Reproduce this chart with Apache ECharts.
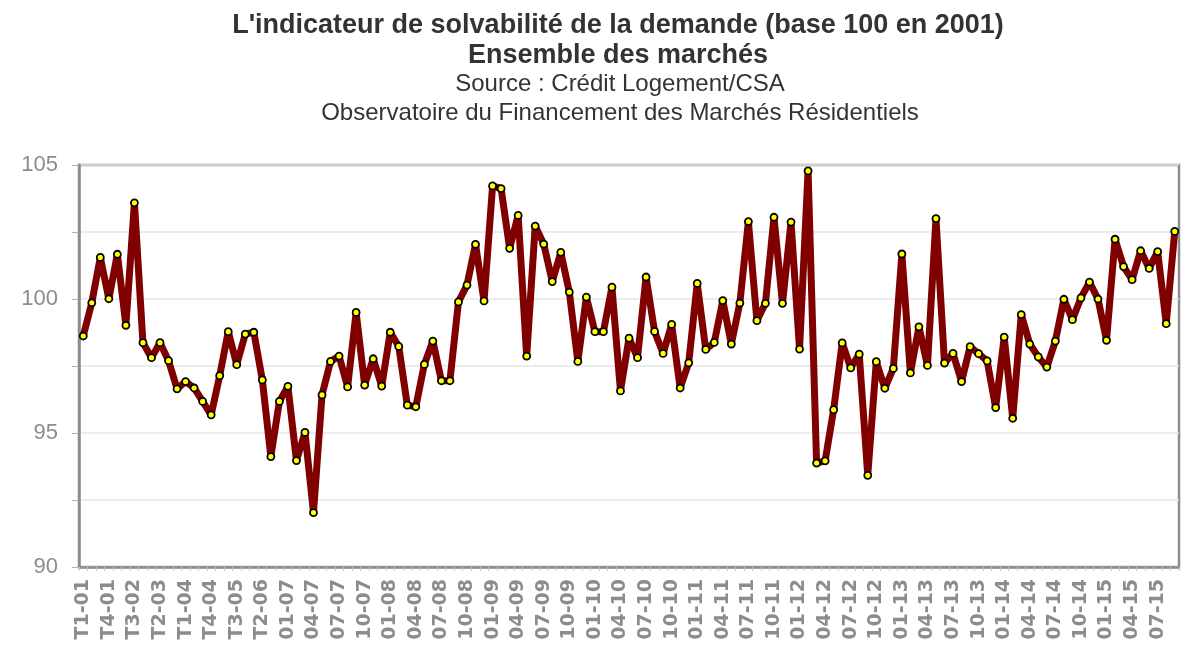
<!DOCTYPE html>
<html>
<head>
<meta charset="utf-8">
<script src="https://cdn.jsdelivr.net/npm/echarts@6/dist/echarts.min.js"></script>
<style>
html,body{margin:0;padding:0;background:#fff;}
#chart{width:1194px;height:658px;}
</style>
</head>
<body>
<div id="chart"></div>
<script>
// Categories: quarterly 2001-2006, then monthly 01-07 .. 09-15
const quarterLabels = [
  "T1-01","T2-01","T3-01","T4-01","T1-02","T2-02","T3-02","T4-02",
  "T1-03","T2-03","T3-03","T4-03","T1-04","T2-04","T3-04","T4-04",
  "T1-05","T2-05","T3-05","T4-05","T1-06","T2-06","T3-06","T4-06"
];
const monthLabels = [
  "01-07","02-07","03-07","04-07","05-07","06-07","07-07","08-07","09-07","10-07","11-07","12-07",
  "01-08","02-08","03-08","04-08","05-08","06-08","07-08","08-08","09-08","10-08","11-08","12-08",
  "01-09","02-09","03-09","04-09","05-09","06-09","07-09","08-09","09-09","10-09","11-09","12-09",
  "01-10","02-10","03-10","04-10","05-10","06-10","07-10","08-10","09-10","10-10","11-10","12-10",
  "01-11","02-11","03-11","04-11","05-11","06-11","07-11","08-11","09-11","10-11","11-11","12-11",
  "01-12","02-12","03-12","04-12","05-12","06-12","07-12","08-12","09-12","10-12","11-12","12-12",
  "01-13","02-13","03-13","04-13","05-13","06-13","07-13","08-13","09-13","10-13","11-13","12-13",
  "01-14","02-14","03-14","04-14","05-14","06-14","07-14","08-14","09-14","10-14","11-14","12-14",
  "01-15","02-15","03-15","04-15","05-15","06-15","07-15","08-15","09-15"
];

// Values
const quarterly2001_2006 = [98.62,99.86,101.55,100.01,101.67,99.02,103.59,98.37,97.81,98.37,97.70,96.65,
  96.92,96.68,96.18,95.68,97.14,98.78,97.55,98.69,98.76,96.98,94.12,96.18];
const m2007 = [96.74,93.97,95.02,92.03,96.42,97.67,97.87,96.72,99.50,96.79,97.77,96.75];
const m2008 = [98.76,98.23,96.04,95.98,97.56,98.43,96.95,96.95,99.89,100.52,102.04,99.93];
const m2009 = [104.22,104.12,101.89,103.12,97.87,102.72,102.05,100.65,101.74,100.26,97.67,100.07];
const m2010 = [98.78,98.78,100.44,96.57,98.54,97.81,100.82,98.79,97.97,99.05,96.68,97.62];
const m2011 = [100.58,98.12,98.38,99.94,98.32,99.85,102.89,99.19,99.84,103.05,99.84,102.87];
const m2012 = [98.13,104.78,93.88,93.96,95.87,98.36,97.43,97.94,93.42,97.66,96.67,97.41];
const m2013 = [101.68,97.24,98.96,97.52,103.00,97.61,97.97,96.92,98.22,97.96,97.69,95.95];
const m2014 = [98.58,95.55,99.42,98.32,97.84,97.46,98.43,99.99,99.23,100.04,100.63,100.00];
const m2015 = [98.46,102.23,101.21,100.72,101.80,101.14,101.77,99.08,102.52];

const categories = quarterLabels.concat(monthLabels);
const values = [].concat(quarterly2001_2006, m2007, m2008, m2009, m2010, m2011, m2012, m2013, m2014, m2015);

const chart = echarts.init(document.getElementById('chart'), null, {renderer:'canvas'});
chart.setOption({
  animation: false,
  backgroundColor: '#ffffff',
  title: [{
    text: "L'indicateur de solvabilité de la demande (base 100 en 2001)\nEnsemble des marchés",
    left: 613,
    textAlign: 'center',
    top: 6,
    textStyle: {fontFamily: 'Liberation Sans, Arial, sans-serif', fontSize: 27, fontWeight: 'bold', color: '#333333', lineHeight: 30}
  }, {
    text: "Source : Crédit Logement/CSA\nObservatoire du Financement des Marchés Résidentiels",
    left: 615,
    textAlign: 'center',
    top: 65,
    textStyle: {fontFamily: 'Liberation Sans, Arial, sans-serif', fontSize: 24, fontWeight: 'normal', color: '#333333', lineHeight: 29}
  }],
  grid: {left: 79, right: 15, top: 165, bottom: 91, show: true, borderColor: '#8c8c8c', borderWidth: 2.5, containLabel: false},
  xAxis: {
    type: 'category',
    data: categories,
    boundaryGap: true,
    axisLine: {show: true, lineStyle: {color: '#8c8c8c', width: 2.5}},
    axisTick: {show: true, interval: 0, length: 4, lineStyle: {color: '#c8c8c8'}},
    axisLabel: {interval: 2, rotate: 90, fontFamily: 'DejaVu Sans, sans-serif', fontSize: 19, fontWeight: 'bold', color: '#8c8c8c', margin: 12},
    splitLine: {show: false}
  },
  yAxis: {
    type: 'value',
    min: 90, max: 105, interval: 2.5,
    axisLine: {show: true, lineStyle: {color: '#8c8c8c', width: 2.5}},
    axisTick: {show: true, length: 7, lineStyle: {color: '#b0b0b0'}},
    axisLabel: {fontFamily: 'Liberation Sans, Arial, sans-serif', fontSize: 22, color: '#8c8c8c', margin: 21,
      formatter: function(v){ return (v % 5 === 0) ? String(v) : ''; }},
    splitLine: {show: true, lineStyle: {color: '#e6e6e6', width: 1.5}}
  },
  series: [{
    type: 'line',
    data: values,
    lineStyle: {color: '#800000', width: 7},
    itemStyle: {color: '#ffff00', borderColor: '#000000', borderWidth: 1.8},
    symbol: 'circle',
    symbolSize: 7,
    showAllSymbol: true,
    z: 3
  }]
});
</script>
</body>
</html>
